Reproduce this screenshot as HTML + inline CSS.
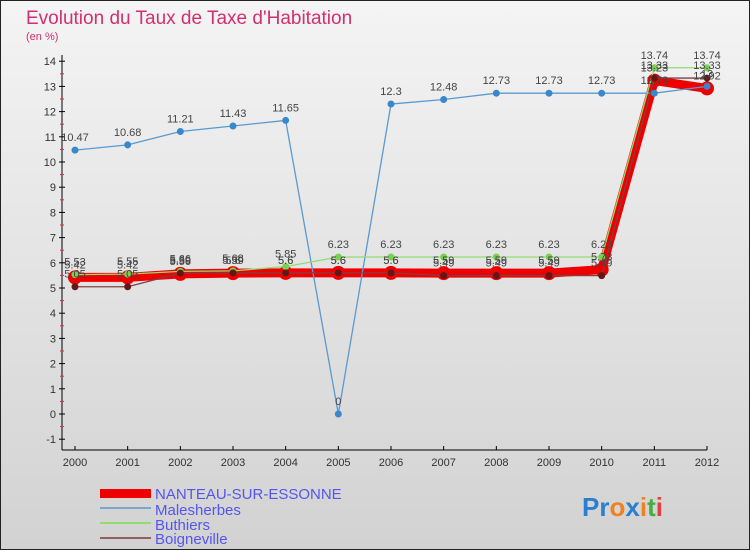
<!DOCTYPE html>
<html><head><meta charset="utf-8"><style>
body{margin:0;width:750px;height:550px;overflow:hidden;font-family:"Liberation Sans",sans-serif}
svg{display:block}
</style></head><body>
<svg id="c" width="750" height="550" xmlns="http://www.w3.org/2000/svg">
<defs><linearGradient id="bg" x1="0" y1="0" x2="0" y2="1"><stop offset="0" stop-color="#f4f4f4"/><stop offset="1" stop-color="#d2d2d2"/></linearGradient></defs>
<rect x="0.5" y="0.5" width="749" height="549" fill="url(#bg)" stroke="#222"/>
<text x="26" y="24" font-size="19" fill="#d03070">Evolution du Taux de Taxe d'Habitation</text>
<text x="26" y="40" font-size="11" fill="#d03070">(en %)</text>
<g id="axes"></g><g id="series"></g><g id="labels"></g>
<g>
<rect x="100" y="489" width="51" height="9" fill="#e00"/>
<text x="155" y="499" font-size="15" fill="#5555ee">NANTEAU-SUR-ESSONNE</text>
<line x1="100" y1="508" x2="151" y2="508" stroke="#7aa8cc" stroke-width="2"/>
<text x="155" y="515" font-size="15" fill="#5555ee">Malesherbes</text>
<line x1="100" y1="523" x2="151" y2="523" stroke="#90dd70" stroke-width="2"/>
<text x="155" y="530" font-size="15" fill="#5555ee">Buthiers</text>
<line x1="100" y1="538" x2="151" y2="538" stroke="#906060" stroke-width="2"/>
<text x="155" y="544" font-size="15" fill="#5555ee">Boigneville</text>
</g>
<text x="582" y="516" font-size="26" font-weight="bold"><tspan fill="#2a7fd0">Pr</tspan><tspan fill="#f08020">o</tspan><tspan fill="#2a7fd0">x</tspan><tspan fill="#f08020">i</tspan><tspan fill="#40b040">t</tspan><tspan fill="#e04040">i</tspan></text>
</svg>
<script>
const years=[2000,2001,2002,2003,2004,2005,2006,2007,2008,2009,2010,2011,2012];
const yTicks=[-1,0,1,2,3,4,5,6,7,8,9,10,11,12,13,14];
const nanteau=[5.42,5.42,5.56,5.59,5.6,5.6,5.6,5.59,5.59,5.59,5.73,13.23,12.92];
const malesherbes=[10.47,10.68,11.21,11.43,11.65,0,12.3,12.48,12.73,12.73,12.73,12.73,13.0];
const buthiers=[5.53,5.55,5.66,5.68,5.85,6.23,6.23,6.23,6.23,6.23,6.23,13.74,13.74];
const boigneville=[5.05,5.05,5.59,5.6,5.6,5.6,5.6,5.49,5.49,5.49,5.49,13.33,13.33];
const NS="http://www.w3.org/2000/svg";
const X=i=>75+i*(707-75)/(years.length-1);
const Y=v=>414-v*25.2;
function mk(tag,attrs,parent,txt){const e=document.createElementNS(NS,tag);for(const k in attrs)e.setAttribute(k,attrs[k]);if(txt!==undefined)e.textContent=txt;document.getElementById(parent).appendChild(e);return e;}
let e;
e=mk('line',{x1:62,y1:55,x2:62,y2:450,stroke:'#000'},'axes');


e=mk('line',{x1:62,y1:450,x2:707,y2:450,stroke:'#000'},'axes');


yTicks.forEach(t=>{
  mk('line',{x1:59,y1:Y(t),x2:65,y2:Y(t),stroke:'#000'},'axes');
  e=mk('text',{x:56,y:Y(t)+4,'font-size':11,'text-anchor':'end',fill:'#333'},'axes',String(t));
  
  
  if(t<14) mk('line',{x1:60,y1:Y(t+0.5),x2:64,y2:Y(t+0.5),stroke:'#e03030'},'axes');
});
years.forEach((yr,i)=>{
  mk('line',{x1:X(i),y1:446,x2:X(i),y2:450,stroke:'#000'},'axes');
  e=mk('text',{x:X(i),y:466,'font-size':11,'text-anchor':'middle',fill:'#333'},'axes',String(yr));
  
  
});
function series(vals,name,color,w,dot,dotR,dotStroke){
  const pts=vals.map((v,i)=>X(i)+','+Y(v)).join(' ');
  e=mk('polyline',{points:pts,fill:'none',stroke:color,'stroke-width':w,'stroke-linejoin':'round'},'series');
  
  
  vals.forEach((v,i)=>{
    e=mk('circle',{cx:X(i),cy:Y(v),r:dotR,fill:dot,stroke:dotStroke,'stroke-width':dotStroke==='none'?0:2},'series');
    
    
    e=mk('text',{x:X(i),y:Y(v)-9,'font-size':11,'text-anchor':'middle',fill:'#444'},'labels',String(v));
    
    
  });
}
series(nanteau,'nanteau','#ee0000',9,'#ee0000',7,'none');
series(malesherbes,'malesherbes','#5a9ad0',1.3,'#3a88cc',3.5,'none');
series(buthiers,'buthiers','#90dd70',1.3,'#7ad050',3.5,'none');
series(boigneville,'boigneville','#804040',1.3,'#601818',3.5,'none');
</script>
</body></html>
